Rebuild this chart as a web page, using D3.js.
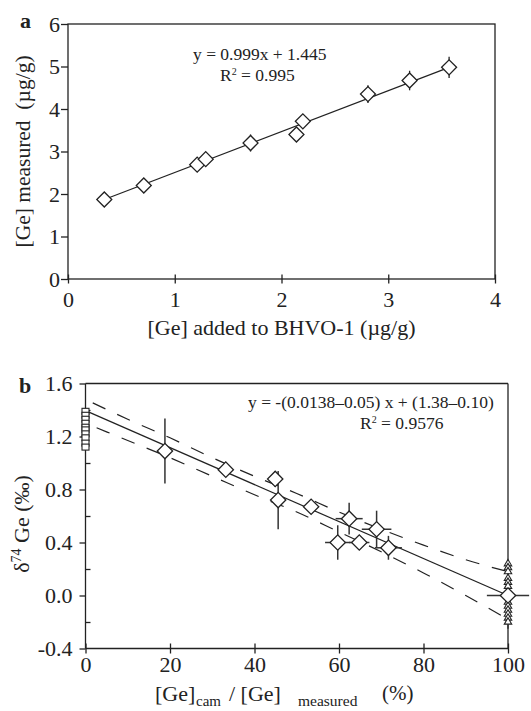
<!DOCTYPE html>
<html><head><meta charset="utf-8">
<script src="https://cdn.jsdelivr.net/npm/d3@7"></script>
<style>
body{margin:0;background:#fff}
svg{display:block}
text{font-family:"Liberation Serif","Times New Roman",serif;fill:#222}
.ax path,.ax line{stroke:#222;stroke-width:1.3}
</style>
</head><body><svg id="c" width="531" height="711"></svg>
<script>
// ---------- Panel a data ----------
const addedA    = [0.34, 0.71, 1.21, 1.29, 1.71, 2.14, 2.20, 2.81, 3.20, 3.57];
const measuredA = [1.87, 2.20, 2.69, 2.82, 3.20, 3.40, 3.71, 4.35, 4.67, 4.98];
const errA      = [0.08, 0.08, 0.10, 0.10, 0.20, 0.12, 0.15, 0.21, 0.23, 0.25];
const regLineAX = [0.34, 3.57];
const regLineAY = [1.87, 4.98];
const xTicksA = [0, 1, 2, 3, 4];
const yTicksA = [0, 1, 2, 3, 4, 5, 6];

// ---------- Panel b data ----------
const ratioB = [18.8, 33.2, 44.9, 45.6, 53.4, 59.7, 62.4, 64.8, 68.9, 71.7, 100];
const deltaB = [1.09, 0.95, 0.88, 0.72, 0.67, 0.40, 0.58, 0.40, 0.50, 0.36, 0.00];
const yErrB  = [0.245, 0.03, 0.06, 0.22, 0.05, 0.13, 0.12, 0.05, 0.14, 0.09, 0.25];
const xErrB  = [0, 0, 0, 0, 0, 3.0, 3.2, 2.4, 3.5, 3.2, 5.0];
const camSquaresB = [1.39, 1.36, 1.33, 1.30, 1.27, 1.25, 1.22, 1.19, 1.15, 1.12];
const spikeTrianglesB = [0.24, 0.21, 0.18, 0.13, 0.10, 0.07, -0.05, -0.08, -0.11, -0.14, -0.17, -0.20];
const fitBX = [0, 100];
const fitBY = [1.395, 0.0];
const bandX     = [0, 10, 20, 30, 40, 50, 60, 70, 80, 90, 100];
const bandUpper = [1.48, 1.33, 1.19, 1.04, 0.90, 0.77, 0.63, 0.50, 0.38, 0.27, 0.18];
const bandLower = [1.30, 1.17, 1.04, 0.90, 0.76, 0.63, 0.48, 0.33, 0.17, 0.00, -0.18];
const xTicksB = [0, 20, 40, 60, 80, 100];
const yTicksB = [-0.4, 0.0, 0.4, 0.8, 1.2, 1.6];
const yMinorB = [-0.2, 0.2, 0.6, 1.0, 1.4];

const svg = d3.select("#c");
const ink = "#222";

// ================= Panel a =================
const xA = d3.scaleLinear().domain([0, 4]).range([68, 495]);
const yA = d3.scaleLinear().domain([0, 6]).range([279, 24]);
const gA = svg.append("g");

gA.append("rect").attr("x", xA(0)).attr("y", yA(6))
  .attr("width", xA(4) - xA(0)).attr("height", yA(0) - yA(6))
  .attr("fill", "none").attr("stroke", ink).attr("stroke-width", 1.3);

const axA_x = gA.append("g").attr("class", "ax").attr("transform", `translate(0,${yA(0)})`)
  .call(d3.axisBottom(xA).tickValues(xTicksA).tickFormat(d3.format("d")).tickSize(4.5).tickPadding(8));
axA_x.select(".domain").remove();
axA_x.selectAll(".tick line").attr("y1", -4.5).attr("y2", 4.5);
axA_x.selectAll("text").attr("font-size", 22).attr("font-family", "Liberation Serif").attr("fill", ink);

const axA_y = gA.append("g").attr("class", "ax").attr("transform", `translate(${xA(0)},0)`)
  .call(d3.axisLeft(yA).tickValues(yTicksA).tickFormat(d3.format("d")).tickSize(7).tickPadding(1));
axA_y.select(".domain").remove();
axA_y.selectAll("text").attr("font-size", 22).attr("font-family", "Liberation Serif").attr("fill", ink);

// regression line
gA.append("line")
  .attr("x1", xA(regLineAX[0])).attr("y1", yA(regLineAY[0]))
  .attr("x2", xA(regLineAX[1])).attr("y2", yA(regLineAY[1]))
  .attr("stroke", ink).attr("stroke-width", 1.2);

// error bars
gA.selectAll(".ea").data(addedA).join("line")
  .attr("x1", (d) => xA(d)).attr("x2", (d) => xA(d))
  .attr("y1", (d, i) => yA(measuredA[i] - errA[i]))
  .attr("y2", (d, i) => yA(measuredA[i] + errA[i]))
  .attr("stroke", ink).attr("stroke-width", 1.3);

const diamond = d3.symbol().type(d3.symbolSquare).size(112);
gA.selectAll(".da").data(addedA).join("path")
  .attr("d", diamond)
  .attr("transform", (d, i) => `translate(${xA(d)},${yA(measuredA[i])}) rotate(45)`)
  .attr("fill", "#fff").attr("stroke", ink).attr("stroke-width", 1.3);

// labels
gA.append("text").attr("x", 20).attr("y", 28).attr("font-size", 22)
  .attr("font-weight", "bold").text("a");
gA.append("text").attr("x", 193).attr("y", 60).attr("font-size", 17.5)
  .text("y = 0.999x + 1.445");
const r2a = gA.append("text").attr("x", 220).attr("y", 81).attr("font-size", 17.5);
r2a.append("tspan").text("R");
r2a.append("tspan").attr("font-size", 10).attr("dy", -6).text("2");
r2a.append("tspan").attr("dy", 6).text(" = 0.995");

gA.append("text").attr("x", (xA(0) + xA(4)) / 2).attr("y", 335)
  .attr("text-anchor", "middle").attr("font-size", 22)
  .text("[Ge] added to BHVO-1 (\u00b5g/g)");
gA.append("text").attr("transform", `translate(30,${(yA(0) + yA(6)) / 2}) rotate(-90)`)
  .attr("text-anchor", "middle").attr("font-size", 21.5)
  .attr("xml:space", "preserve").style("white-space", "pre")
  .text("[Ge] measured  (\u00b5g/g)");

// ================= Panel b =================
const xB = d3.scaleLinear().domain([0, 100]).range([85.5, 508]);
const yB = d3.scaleLinear().domain([-0.4, 1.6]).range([648.5, 383.5]);
const gB = svg.append("g");

// top and right borders
gB.append("line").attr("x1", xB(0)).attr("x2", xB(100)).attr("y1", yB(1.6)).attr("y2", yB(1.6))
  .attr("stroke", ink).attr("stroke-width", 1.3);
gB.append("line").attr("x1", xB(100)).attr("x2", xB(100)).attr("y1", yB(1.6)).attr("y2", yB(-0.4))
  .attr("stroke", ink).attr("stroke-width", 1.3);

const axB_x = gB.append("g").attr("class", "ax").attr("transform", `translate(0,${yB(-0.4)})`)
  .call(d3.axisBottom(xB).tickValues(xTicksB).tickFormat(d3.format("d")).tickSize(5).tickPadding(3));
axB_x.select(".domain").attr("d", `M${xB(0)},0H${xB(100)}`);
axB_x.selectAll(".tick line").attr("y1", -5).attr("y2", 5);
axB_x.selectAll("text").attr("font-size", 22).attr("font-family", "Liberation Serif").attr("fill", ink);

const axB_y = gB.append("g").attr("class", "ax").attr("transform", `translate(${xB(0)},0)`)
  .call(d3.axisLeft(yB).tickValues(yTicksB).tickFormat(d3.format(".1f")).tickSize(6).tickPadding(7));
axB_y.select(".domain").attr("d", `M0,${yB(1.6)}V${yB(-0.4)}`);
axB_y.selectAll("text").attr("font-size", 22).attr("font-family", "Liberation Serif").attr("fill", ink)
  .text((d) => d3.format(".1f")(d).replace("\u2212", "-"));
const axB_ym = gB.append("g").attr("class", "ax").attr("transform", `translate(${xB(0)},0)`)
  .call(d3.axisLeft(yB).tickValues(yMinorB).tickFormat("").tickSize(-5));
axB_ym.select(".domain").remove();

// confidence bands
const bandLine = (arr) => d3.line().curve(d3.curveMonotoneX)
  .x((d, i) => xB(bandX[i])).y((d) => yB(d))(arr);
gB.append("path").attr("d", bandLine(bandUpper)).attr("fill", "none")
  .attr("stroke", ink).attr("stroke-width", 1.2).attr("stroke-dasharray", "14,13")
  .attr("stroke-dashoffset", -8);
gB.append("path").attr("d", bandLine(bandLower)).attr("fill", "none")
  .attr("stroke", ink).attr("stroke-width", 1.2).attr("stroke-dasharray", "14,13")
  .attr("stroke-dashoffset", -12);

// fit line
gB.append("line")
  .attr("x1", xB(fitBX[0])).attr("y1", yB(fitBY[0]))
  .attr("x2", xB(fitBX[1])).attr("y2", yB(fitBY[1]))
  .attr("stroke", ink).attr("stroke-width", 1.2);

// error bars
gB.selectAll(".eyb").data(ratioB).join("line")
  .attr("x1", (d) => xB(d)).attr("x2", (d) => xB(d))
  .attr("y1", (d, i) => yB(deltaB[i] - yErrB[i]))
  .attr("y2", (d, i) => yB(deltaB[i] + yErrB[i]))
  .attr("stroke", "#333").attr("stroke-width", 1.5);
gB.selectAll(".exb").data(ratioB).join("line")
  .attr("x1", (d, i) => xB(d - xErrB[i])).attr("x2", (d, i) => xB(d + xErrB[i]))
  .attr("y1", (d, i) => yB(deltaB[i])).attr("y2", (d, i) => yB(deltaB[i]))
  .attr("stroke", "#333").attr("stroke-width", 1.5);

// squares at 0 %
gB.selectAll(".sq").data(camSquaresB).join("rect")
  .attr("x", xB(0) - 3.5).attr("y", (d) => yB(d) - 3)
  .attr("width", 7).attr("height", 6)
  .attr("fill", "#fff").attr("stroke", ink).attr("stroke-width", 1.1);

// triangles at 100 %
const tri = d3.symbol().type(d3.symbolTriangle).size(24);
gB.selectAll(".tr").data(spikeTrianglesB).join("path")
  .attr("d", tri)
  .attr("transform", (d) => `translate(${xB(100)},${yB(d)})`)
  .attr("fill", "#fff").attr("stroke", ink).attr("stroke-width", 1.1);

// diamonds
const diamondB = d3.symbol().type(d3.symbolSquare).size(118);
gB.selectAll(".db").data(ratioB).join("path")
  .attr("d", diamondB)
  .attr("transform", (d, i) => `translate(${xB(d)},${yB(deltaB[i])}) rotate(45)`)
  .attr("fill", "#fff").attr("stroke", ink).attr("stroke-width", 1.3);

// labels
gB.append("text").attr("x", 19).attr("y", 393).attr("font-size", 22)
  .attr("font-weight", "bold").text("b");
gB.append("text").attr("x", 248).attr("y", 408).attr("font-size", 17.5)
  .text("y = -(0.0138\u20130.05) x + (1.38\u20130.10)");
const r2b = gB.append("text").attr("x", 360).attr("y", 429).attr("font-size", 17.5);
r2b.append("tspan").text("R");
r2b.append("tspan").attr("font-size", 10).attr("dy", -6).text("2");
r2b.append("tspan").attr("dy", 6).text(" = 0.9576");

// x title
gB.append("text").attr("x", 155).attr("y", 701).attr("font-size", 22).text("[Ge]");
gB.append("text").attr("x", 196).attr("y", 706).attr("font-size", 15).text("cam");
gB.append("text").attr("x", 229).attr("y", 701).attr("font-size", 22).text("/ [Ge]");
gB.append("text").attr("x", 298).attr("y", 706).attr("font-size", 15.5).text("measured");
gB.append("text").attr("x", 382).attr("y", 700).attr("font-size", 21).text("(%)");

// y title
const yt = gB.append("text").attr("transform", `translate(29,${(yB(-0.4) + yB(1.6)) / 2 + 8}) rotate(-90)`)
  .attr("text-anchor", "middle").attr("font-size", 22);
yt.append("tspan").text("\u03b4");
yt.append("tspan").attr("font-size", 14).attr("dy", -8).text("74");
yt.append("tspan").attr("dy", 8).text(" Ge (\u2030)");
</script>
</body></html>
